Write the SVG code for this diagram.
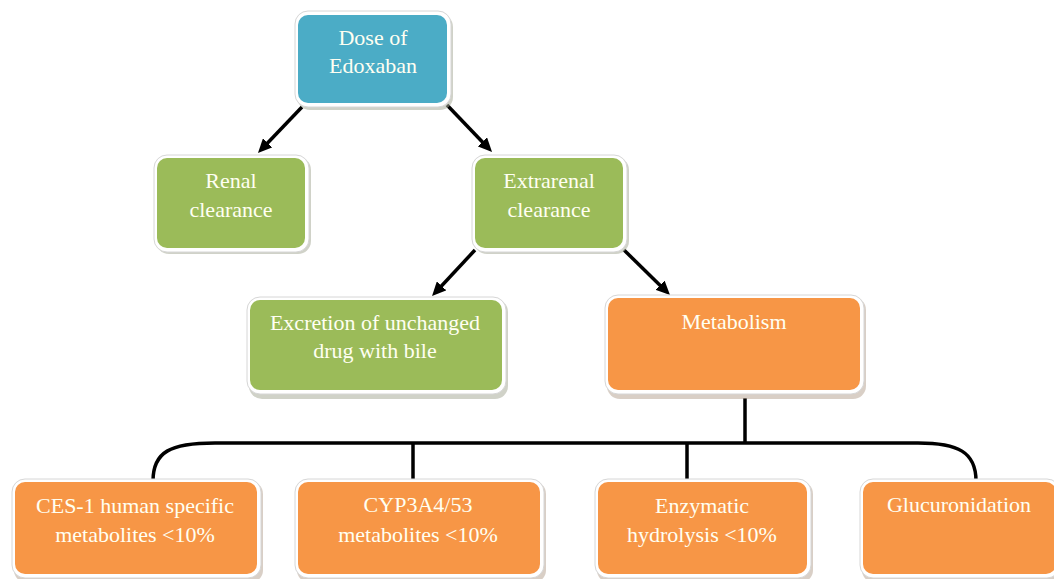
<svg xmlns="http://www.w3.org/2000/svg" width="1054" height="579" viewBox="0 0 1054 579">
<style>
.sh{fill:#b9a898;opacity:0.55}
.shg{fill:#a9ad9a;opacity:0.55}
.rim{fill:#ffffff;stroke:#d6d6d6;stroke-width:1}
.blue{fill:#4BACC6}
.green{fill:#9BBB59}
.orange{fill:#F79646}
text{font-family:"Liberation Serif","Times New Roman",serif;font-size:22px;fill:#FFFFF2;text-anchor:middle}
.ln{fill:none;stroke:#000;stroke-width:3.5}
</style>
<defs>
<marker id="ah" markerUnits="userSpaceOnUse" markerWidth="14" markerHeight="13" viewBox="0 0 14 13" refX="6" refY="6.5" orient="auto">
<path d="M0,0 L14,6.5 L0,13 z" fill="#000"/>
</marker>
</defs>
<rect width="1054" height="579" fill="#ffffff"/>
<g id="connectors">
<line class="ln" x1="302" y1="107" x2="263.5" y2="147.2" marker-end="url(#ah)"/>
<line class="ln" x1="447" y1="105" x2="486.5" y2="146.2" marker-end="url(#ah)"/>
<line class="ln" x1="475" y1="250" x2="437.5" y2="290.2" marker-end="url(#ah)"/>
<line class="ln" x1="624" y1="250" x2="664.3" y2="289.4" marker-end="url(#ah)"/>
<path class="ln" d="M745 398 V443"/>
<path class="ln" d="M153 481 C153 452 170 443 215 443 H918 C958 443 976 452 976 481"/>
<path class="ln" d="M413 443 V480"/>
<path class="ln" d="M687 443 V480"/>
</g>
<g id="dose">
<rect class="shg" x="297" y="14" width="156" height="96" rx="13"/>
<rect class="rim" x="295" y="11" width="156" height="96" rx="13"/>
<rect class="blue" x="298" y="15" width="149" height="88" rx="10"/>
<text x="373" y="45">Dose of</text>
<text x="373" y="73">Edoxaban</text>
</g>
<g id="renal">
<rect class="shg" x="156" y="157" width="155" height="97" rx="13"/>
<rect class="rim" x="154" y="155" width="155" height="97" rx="13"/>
<rect class="green" x="157" y="158" width="148" height="90" rx="10"/>
<text x="231" y="188">Renal</text>
<text x="231" y="217">clearance</text>
</g>
<g id="extrarenal">
<rect class="shg" x="474" y="157" width="155" height="97" rx="13"/>
<rect class="rim" x="472" y="155" width="155" height="97" rx="13"/>
<rect class="green" x="475" y="158" width="148" height="90" rx="10"/>
<text x="549" y="188">Extrarenal</text>
<text x="549" y="217">clearance</text>
</g>
<g id="excretion">
<rect class="shg" x="249" y="299" width="259" height="100" rx="13"/>
<rect class="rim" x="247" y="297" width="259" height="97" rx="13"/>
<rect class="green" x="250" y="300" width="252" height="90" rx="10"/>
<text x="375" y="330">Excretion of unchanged</text>
<text x="375" y="358">drug with bile</text>
</g>
<g id="metabolism">
<rect class="sh" x="607" y="297" width="259" height="102" rx="13"/>
<rect class="rim" x="605" y="295" width="259" height="99" rx="13"/>
<rect class="orange" x="608" y="298" width="252" height="92" rx="10"/>
<text x="734" y="329">Metabolism</text>
</g>
<g id="ces1">
<rect class="sh" x="14" y="481" width="249" height="102" rx="13"/>
<rect class="rim" x="12" y="479" width="249" height="99" rx="13"/>
<rect class="orange" x="15" y="482" width="242" height="92" rx="10"/>
<text x="135" y="513">CES-1 human specific</text>
<text x="135" y="542">metabolites &lt;10%</text>
</g>
<g id="cyp">
<rect class="sh" x="297" y="481" width="249" height="102" rx="13"/>
<rect class="rim" x="295" y="479" width="249" height="99" rx="13"/>
<rect class="orange" x="298" y="482" width="242" height="92" rx="10"/>
<text x="418" y="512">CYP3A4/53</text>
<text x="418" y="542">metabolites &lt;10%</text>
</g>
<g id="enzymatic">
<rect class="sh" x="597" y="481" width="216" height="102" rx="13"/>
<rect class="rim" x="595" y="479" width="216" height="99" rx="13"/>
<rect class="orange" x="598" y="482" width="209" height="92" rx="10"/>
<text x="702" y="513">Enzymatic</text>
<text x="702" y="542">hydrolysis &lt;10%</text>
</g>
<g id="glucuronidation">
<rect class="sh" x="862" y="481" width="200" height="102" rx="13"/>
<rect class="rim" x="860" y="479" width="200" height="99" rx="13"/>
<rect class="orange" x="863" y="482" width="193" height="92" rx="10"/>
<text x="959" y="512">Glucuronidation</text>
</g>
</svg>
